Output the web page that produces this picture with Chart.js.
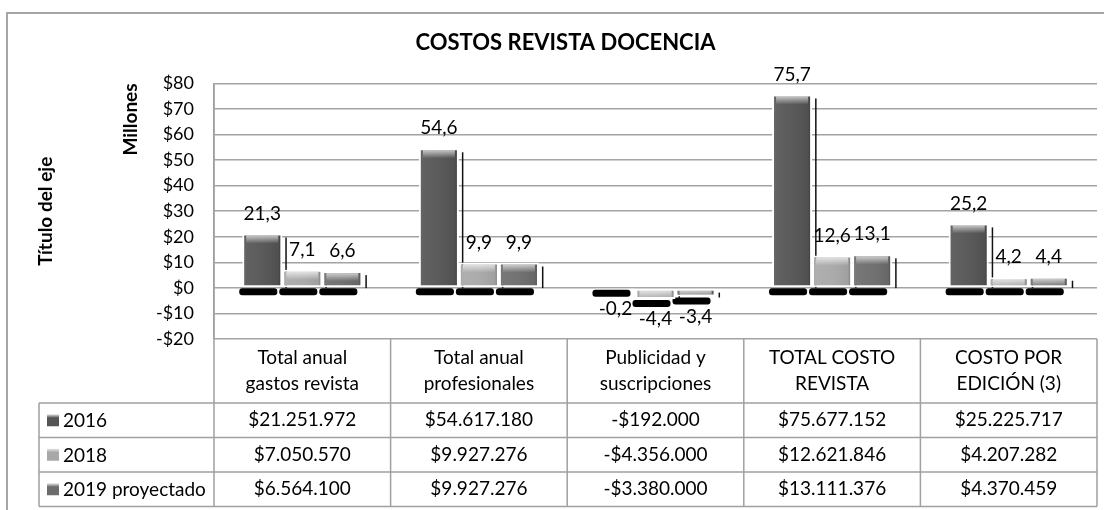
<!DOCTYPE html>
<html>
<head>
<meta charset="utf-8">
<script src="https://cdn.jsdelivr.net/npm/chart.js@4.4.1/dist/chart.umd.min.js"></script>
<style>
  html, body { margin: 0; padding: 0; background: #fff; }
  canvas { display: block; }
</style>
</head>
<body>
<canvas id="chart" width="1104" height="510"></canvas>
<script>
// datos del gráfico (pesos)
const categorias = [
  ['Total anual', 'gastos revista'],
  ['Total anual', 'profesionales'],
  ['Publicidad y', 'suscripciones'],
  ['TOTAL COSTO', 'REVISTA'],
  ['COSTO POR', 'EDICIÓN (3)']
];
const series = ['2016', '2018', '2019 proyectado'];
const valores2016 = [21251972, 54617180, -192000, 75677152, 25225717];
const valores2018 = [7050570, 9927276, -4356000, 12621846, 4207282];
const valores2019 = [6564100, 9927276, -3380000, 13111376, 4370459];
const colores = ['#545454', '#a8a8a8', '#6c6c6c'];
const yMin = -20, yMax = 80, yPaso = 10;

const FONT = 'Lato, "Open Sans", sans-serif';

function pesos(v) {
  const s = Math.abs(v).toString().replace(/\B(?=(\d{3})+(?!\d))/g, '.');
  return (v < 0 ? '-$' : '$') + s;
}
function millones(v) {
  return (v / 1e6).toFixed(1).replace('.', ',');
}

// marco exterior del gráfico
const marco = {
  id: 'marco',
  beforeDraw(chart) {
    const ctx = chart.ctx;
    ctx.save();
    ctx.fillStyle = '#fff';
    ctx.fillRect(0, 0, chart.width, chart.height);
    ctx.strokeStyle = '#a6a6a6';
    ctx.lineWidth = 2;
    ctx.beginPath();
    ctx.moveTo(7, chart.height);
    ctx.lineTo(7, 13);
    ctx.lineTo(chart.width, 13);
    ctx.stroke();
    ctx.restore();
  }
};

// sombras, bisel y etiquetas de las barras
const barras3d = {
  id: 'barras3d',
  beforeDatasetsDraw(chart) {
    const ctx = chart.ctx;
    ctx.save();
    chart.data.datasets.forEach((ds, di) => {
      chart.getDatasetMeta(di).data.forEach(bar => {
        const {x, y, base, width} = bar.getProps(['x', 'y', 'base', 'width'], true);
        const left = x - width / 2, right = x + width / 2;
        const low = Math.max(y, base), high = Math.min(y, base);
        ctx.fillStyle = '#000';
        ctx.beginPath();
        ctx.roundRect(left - 3, low + 1, width - 2, 7, 3);
        ctx.fill();
        if (low - high > 6) {
          ctx.fillStyle = '#111';
          ctx.fillRect(right + 3, high + 4, 1.5, low - high - 3);
        }
      });
    });
    ctx.restore();
  },
  afterDatasetsDraw(chart) {
    const ctx = chart.ctx;
    ctx.save();
    chart.data.datasets.forEach((ds, di) => {
      chart.getDatasetMeta(di).data.forEach((bar, i) => {
        const {x, y, base, width} = bar.getProps(['x', 'y', 'base', 'width'], true);
        const left = x - width / 2, right = x + width / 2;
        const low = Math.max(y, base), high = Math.min(y, base);
        const h = low - high;
        if (h > 6) {
          const g = ctx.createLinearGradient(left, 0, right, 0);
          g.addColorStop(0, 'rgba(0,0,0,0.35)');
          g.addColorStop(0.1, 'rgba(255,255,255,0.08)');
          g.addColorStop(0.5, 'rgba(255,255,255,0.04)');
          g.addColorStop(0.9, 'rgba(0,0,0,0.05)');
          g.addColorStop(1, 'rgba(0,0,0,0.4)');
          ctx.fillStyle = g;
          ctx.fillRect(left + 2, high + 2, width - 4, h - 4);
          const g2 = ctx.createLinearGradient(0, high + 2, 0, high + 10);
          g2.addColorStop(0, 'rgba(255,255,255,0.65)');
          g2.addColorStop(1, 'rgba(255,255,255,0)');
          ctx.fillStyle = g2;
          ctx.fillRect(left + 4, high + 2, width - 8, Math.min(8, h - 4));
        }
        const v = ds.data[i];
        ctx.fillStyle = '#000';
        ctx.font = '19px ' + FONT;
        ctx.textAlign = 'center';
        ctx.textBaseline = 'middle';
        const ty = v >= 0 ? y - 20 : low + 20;
        ctx.fillText(millones(v * 1e6), x, ty);
      });
    });
    ctx.restore();
  }
};

// tabla de datos bajo el gráfico
const tablaDatos = {
  id: 'tablaDatos',
  afterDraw(chart) {
    const ctx = chart.ctx;
    const xs = chart.scales.x;
    const area = chart.chartArea;
    const colW = xs.getPixelForValue(1) - xs.getPixelForValue(0);
    const top = area.bottom;
    const cabecera = 64;
    const fila = 34.5;
    const legIzq = 39;
    const filasY = [top + cabecera];
    for (let r = 1; r <= series.length; r++) filasY.push(top + cabecera + r * fila);
    const fondo = filasY[filasY.length - 1];
    ctx.save();
    ctx.strokeStyle = '#a0a0a0';
    ctx.lineWidth = 1.5;
    ctx.beginPath();
    filasY.forEach(yy => { ctx.moveTo(legIzq, yy); ctx.lineTo(area.right, yy); });
    for (let c = 0; c <= categorias.length; c++) {
      const xx = area.left + c * colW;
      ctx.moveTo(xx, c === 0 ? area.top : top);
      ctx.lineTo(xx, fondo);
    }
    ctx.moveTo(legIzq, filasY[0]);
    ctx.lineTo(legIzq, fondo);
    ctx.stroke();

    ctx.fillStyle = '#000';
    ctx.font = '19px ' + FONT;
    ctx.textAlign = 'center';
    ctx.textBaseline = 'middle';
    categorias.forEach((lineas, c) => {
      const cx = xs.getPixelForValue(c);
      const my = top + cabecera / 2;
      lineas.forEach((t, k) => ctx.fillText(t, cx, my + (k - (lineas.length - 1) / 2) * 26));
    });
    const valores = [valores2016, valores2018, valores2019];
    valores.forEach((vals, r) => {
      const cy = filasY[r] + fila / 2;
      vals.forEach((v, c) => {
        ctx.fillStyle = '#000';
        ctx.textAlign = 'center';
        ctx.fillText(pesos(v), xs.getPixelForValue(c), cy);
      });
      // clave de la serie
      const g = ctx.createLinearGradient(0, cy - 6, 0, cy + 6);
      g.addColorStop(0, '#e6e6e6');
      g.addColorStop(0.3, colores[r]);
      g.addColorStop(1, colores[r]);
      ctx.fillStyle = g;
      ctx.fillRect(47, cy - 6, 12, 12);
      ctx.fillStyle = '#000';
      ctx.textAlign = 'left';
      ctx.fillText(series[r], 63, cy + 1);
    });
    ctx.restore();
  }
};

new Chart(document.getElementById('chart'), {
  type: 'bar',
  data: {
    labels: categorias.map(l => l.join(' ')),
    datasets: series.map((nombre, k) => ({
      label: nombre,
      data: [valores2016, valores2018, valores2019][k].map(v => v / 1e6),
      backgroundColor: colores[k],
      borderColor: '#ffffff',
      borderWidth: 2,
      borderSkipped: false,
      categoryPercentage: 0.68,
      barPercentage: 1
    }))
  },
  options: {
    responsive: false,
    animation: false,
    layout: { padding: { left: 34, right: 7, top: 0, bottom: 171 } },
    plugins: {
      legend: { display: false },
      tooltip: { enabled: false },
      title: {
        display: true,
        text: 'COSTOS REVISTA DOCENCIA',
        color: '#000',
        font: { family: FONT, size: 22, weight: 'bold' },
        padding: { top: 30, bottom: 27 }
      }
    },
    scales: {
      x: { display: false },
      y: {
        min: yMin,
        max: yMax,
        ticks: {
          stepSize: yPaso,
          padding: 20,
          color: '#000',
          font: { family: FONT, size: 18 },
          callback: v => (v < 0 ? '-$' + (-v) : '$' + v)
        },
        grid: { color: '#a3a3a3', lineWidth: 1.5, drawTicks: false },
        border: { display: true, color: '#a3a3a3', width: 1.5 },
        title: {
          display: true,
          text: 'Millones',
          align: 'end',
          color: '#000',
          font: { family: FONT, size: 19, weight: 'bold' },
          padding: { top: 0, bottom: 0 }
        },
        afterFit: s => { s.width = 95; }
      },
      y2: {
        type: 'linear',
        position: 'left',
        weight: 1,
        min: 0,
        max: 1,
        ticks: { display: false },
        grid: { display: false },
        border: { display: false },
        title: {
          display: true,
          text: 'Título del eje',
          color: '#000',
          font: { family: FONT, size: 19, weight: 'bold' },
          padding: { top: 0, bottom: 0 }
        },
        afterFit: s => { s.width = 85; }
      }
    }
  },
  plugins: [marco, barras3d, tablaDatos]
});
</script>
</body>
</html>
